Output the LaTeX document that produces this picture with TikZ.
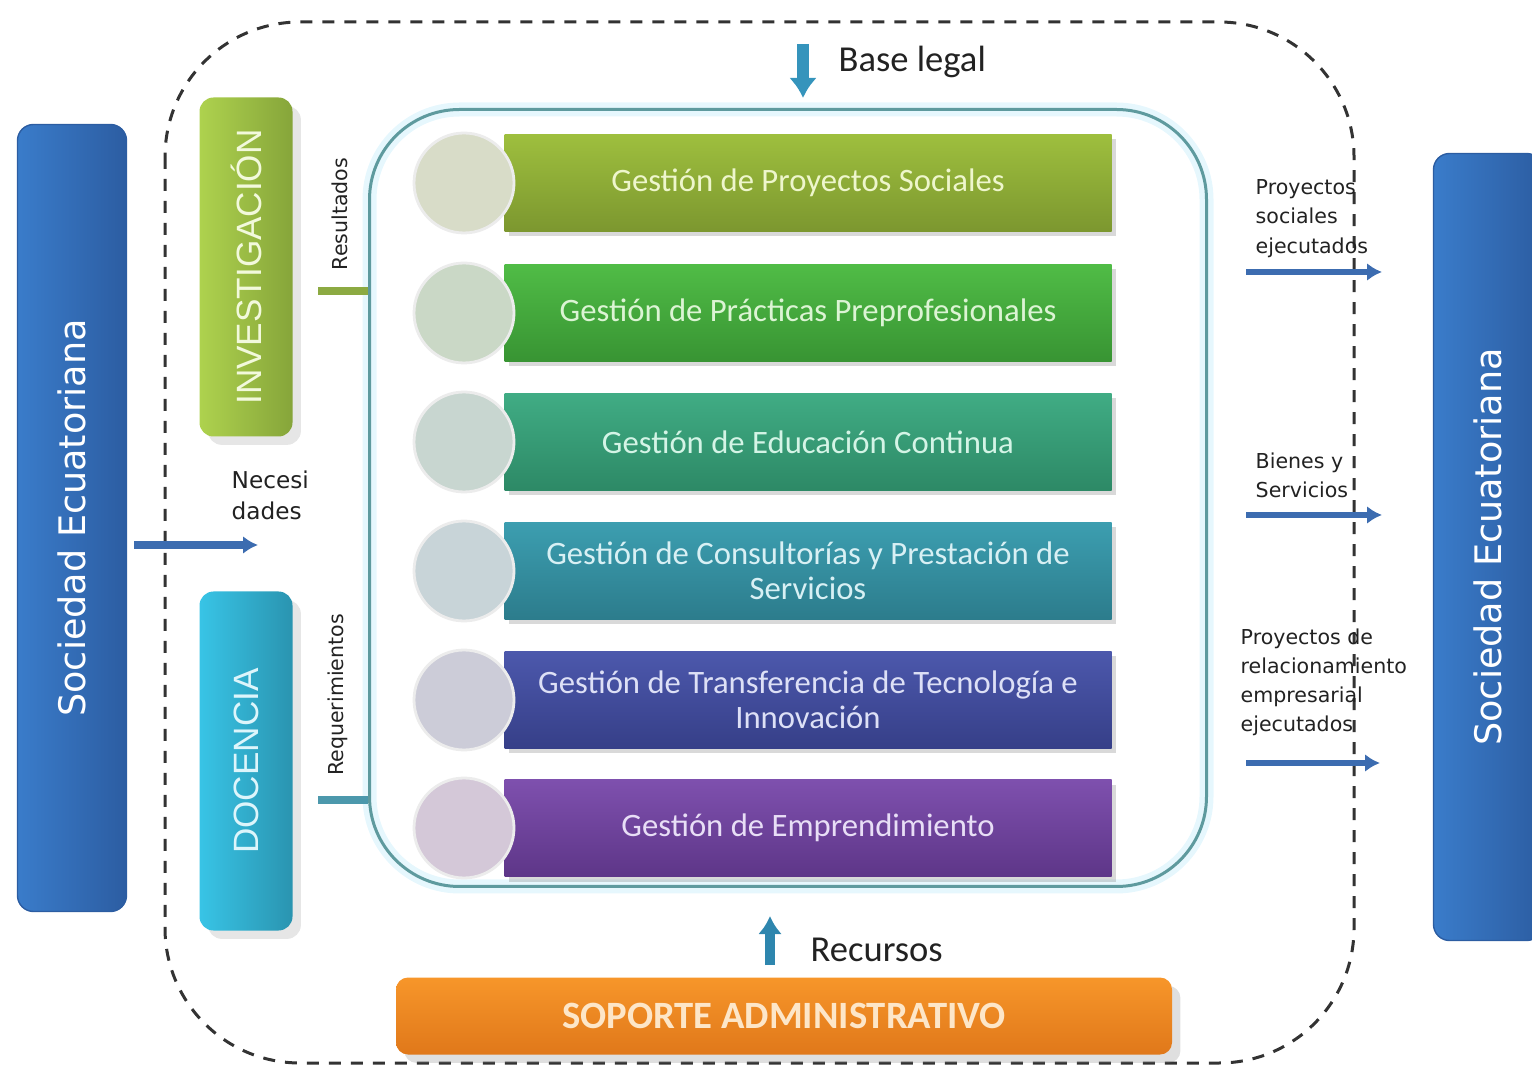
\documentclass[tikz,border=0pt]{standalone}
\usepackage{fontspec}
\setmainfont{Carlito}
\newfontfamily\verdfont{DejaVu Sans}
\newfontfamily\arialfont{Liberation Sans}
\usetikzlibrary{arrows.meta,shadows}

\definecolor{socA}{HTML}{3A7CCA}
\definecolor{socB}{HTML}{2C5DA2}
\definecolor{invA}{HTML}{AED24E}
\definecolor{invB}{HTML}{86A53A}
\definecolor{invtxt}{HTML}{F2F9DC}
\definecolor{docA}{HTML}{38C4E6}
\definecolor{docB}{HTML}{2A94B0}
\definecolor{doctxt}{HTML}{DDF5FB}
\definecolor{coreline}{HTML}{5E9A9E}
\definecolor{arrblue}{HTML}{3C6CB0}
\definecolor{legalblue}{HTML}{3594BC}
\definecolor{recblue}{HTML}{2E86AE}
\definecolor{resgreen}{HTML}{8CAA42}
\definecolor{reqteal}{HTML}{4C98AC}
\definecolor{orgA}{HTML}{F7962A}
\definecolor{orgB}{HTML}{E0781A}
\definecolor{orgtxt}{HTML}{FDE6C8}
\definecolor{inktxt}{HTML}{222222}
% rows: top, bottom, text, circle
\definecolor{r1top}{HTML}{9EBF3E}\definecolor{r1bot}{HTML}{7C972F}
\definecolor{r1txt}{HTML}{EEF6CC}\definecolor{r1dot}{HTML}{D8DCC8}
\definecolor{r2top}{HTML}{50BC46}\definecolor{r2bot}{HTML}{389433}
\definecolor{r2txt}{HTML}{DCF4D4}\definecolor{r2dot}{HTML}{CAD8C6}
\definecolor{r3top}{HTML}{40AC84}\definecolor{r3bot}{HTML}{2D8966}
\definecolor{r3txt}{HTML}{D4F4E6}\definecolor{r3dot}{HTML}{C8D6D0}
\definecolor{r4top}{HTML}{3C9EB0}\definecolor{r4bot}{HTML}{2C7C8C}
\definecolor{r4txt}{HTML}{D8F0F4}\definecolor{r4dot}{HTML}{C8D4D8}
\definecolor{r5top}{HTML}{4C58AC}\definecolor{r5bot}{HTML}{363F88}
\definecolor{r5txt}{HTML}{DDE0F6}\definecolor{r5dot}{HTML}{CCCCD8}
\definecolor{r6top}{HTML}{7E50AE}\definecolor{r6bot}{HTML}{5E3688}
\definecolor{r6txt}{HTML}{E8DEF6}\definecolor{r6dot}{HTML}{D4C8D8}

\begin{document}
\begin{tikzpicture}[x=0.1mm,y=-0.1mm,>=latex,
  sidebar/.style={rotate=90,rounded corners=1.6mm,left color=socA,right color=socB,
    draw=socB,text=white,minimum width=78.7mm,minimum height=10.9mm,
    font=\verdfont\fontsize{10.4}{12}\selectfont},
  pillar/.style={rotate=90,rounded corners=1.4mm,minimum width=33.9mm,minimum height=9.3mm,
    font=\arialfont\fontsize{10}{12}\selectfont,drop shadow={opacity=0.2}},
  rowbar/.style={minimum width=60.7mm,minimum height=9.7mm,align=center,
    font=\fontsize{9.3}{10}\selectfont,
    drop shadow={shadow xshift=0.4mm,shadow yshift=-0.5mm,opacity=0.3}},
  rowdot/.style={circle,minimum size=10mm,inner sep=0pt,draw=white!85!gray,line width=0.8pt},
  lbl/.style={font=\verdfont\fontsize{5.85}{8.3}\selectfont,align=left,inner sep=0pt,text=inktxt},
  flow/.style={line width=0.6mm,draw=arrblue,-{Latex[length=1.5mm,width=1.8mm]}},
  frame/.style={dash pattern=on 1.2mm off 1mm,line width=0.3mm,draw=black!80}
]
\pgfmathsetmacro\barx{808}
\pgfmathsetmacro\dotx{464}
\clip (0,0) rectangle (1532,1071);

\draw[frame,rounded corners=13.5mm] (165,22) rectangle (1354,1063);

\node[draw=coreline,line width=0.3mm,rounded corners=9mm,minimum width=83.7mm,
  minimum height=77.7mm,preaction={draw=cyan!10,line width=1.4mm}] (core) at (788,498) {};

\foreach \i/\yy/\txt in {1/183/{Gestión de Proyectos Sociales},
  2/313/{Gestión de Prácticas Preprofesionales},
  3/442/{Gestión de Educación Continua},
  4/571/{Gestión de Consultorías y Prestación de\\Servicios},
  5/700/{Gestión de Transferencia de Tecnología e\\Innovación},
  6/828/{Gestión de Emprendimiento}} {
  \node[rowbar,top color=r\i top,bottom color=r\i bot,text=r\i txt] (bar\i) at (\barx,\yy) {\txt};
  \node[rowdot,fill=r\i dot] (dot\i) at (\dotx,\yy) {};
}

\node[pillar,left color=invA,right color=invB,text=invtxt] (inv) at (246,267) {INVESTIGACIÓN};
\node[pillar,left color=docA,right color=docB,text=doctxt] (doc) at (246,761) {DOCENCIA};

\node[sidebar] (socL) at (72,518) {Sociedad Ecuatoriana};
\node[sidebar] (socR) at (1488,547) {Sociedad Ecuatoriana};

\node[rounded corners=1.2mm,top color=orgA,bottom color=orgB,minimum width=77.6mm,
  minimum height=7.7mm,text=orgtxt,font=\bfseries\fontsize{11}{13}\selectfont,
  drop shadow={opacity=0.25}] (sop) at (784,1016) {SOPORTE ADMINISTRATIVO};

% base legal / recursos
\coordinate (legalA) at (803,44);
\draw[line width=1.2mm,legalblue,-{Latex[length=2mm,width=2.8mm]},shorten >=1mm] (legalA) -- (legalA |- core.north);
\node[anchor=west,inner sep=0pt,text=inktxt,font=\fontsize{10.4}{12}\selectfont] (legal) at (838,62) {Base legal};
\coordinate (recA) at (770,965);
\coordinate (recB) at (770,916);
\draw[line width=1mm,recblue,-{Latex[length=1.8mm,width=2.4mm]}] (recA) -- (recB);
\node[anchor=west,inner sep=0pt,text=inktxt,font=\fontsize{10.4}{12}\selectfont] (rec) at (810,950) {Recursos};

% entradas
\coordinate (needA) at (134,545);
\coordinate (needB) at (258,545);
\draw[flow,line width=0.8mm] (needA) -- (needB);
\node[lbl,anchor=north west,font=\verdfont\fontsize{6.6}{9}\selectfont] (need) at (231,470) {Necesi\\dades};

\node[lbl,rotate=90] (resl) at (340,214) {Resultados};
\coordinate (resA) at (318,291);
\draw[line width=0.8mm,resgreen] (resA) -- (resA -| core.west);
\node[lbl,rotate=90] (reql) at (338,695) {Requerimientos};
\coordinate (reqA) at (318,800);
\draw[line width=0.8mm,reqteal] (reqA) -- (reqA -| core.west);

% salidas
\node[lbl,anchor=north west] (outA) at (1255,179) {Proyectos\\sociales\\ejecutados};
\coordinate (outA1) at (1246,272);
\coordinate (outA2) at (1382,272);
\draw[flow] (outA1) -- (outA2);
\node[lbl,anchor=north west] (outB) at (1255,452) {Bienes y\\Servicios};
\coordinate (outB1) at (1246,515);
\coordinate (outB2) at (1382,515);
\draw[flow] (outB1) -- (outB2);
\node[lbl,anchor=north west] (outC) at (1240,628) {Proyectos de\\relacionamiento\\empresarial\\ejecutados};
\coordinate (outC1) at (1246,763);
\coordinate (outC2) at (1380,763);
\draw[flow] (outC1) -- (outC2);
\end{tikzpicture}
\end{document}
